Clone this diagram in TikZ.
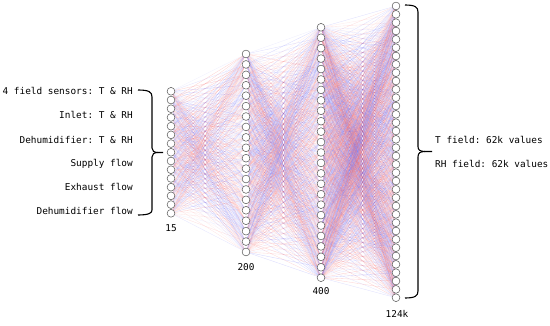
\documentclass[tikz,border=0pt]{standalone}
\usepackage{fontspec}
\setmonofont{DejaVu Sans Mono}
\pgfdeclarelayer{background}
\pgfsetlayers{background,main}
\definecolor{edgered}{RGB}{245,90,90}
\definecolor{edgeblue}{RGB}{100,100,245}
\definecolor{nodegray}{RGB}{95,95,95}
\tikzset{
  neuron/.style={circle, draw=nodegray, fill=white, line width=0.55pt, minimum size=7.8pt, inner sep=0pt},
  edge/.style={line width=0.35pt},
  lbl/.style={font=\ttfamily\fontsize{9.4}{11}\selectfont, inner sep=0pt},
  bracestyle/.style={line width=1.1pt, black}
}
\begin{document}
\begin{tikzpicture}[x=1pt,y=-1pt]
\useasboundingbox (0,0) rectangle (550,326);
% layers
\foreach \i in {1,...,15}{\node[neuron] (a\i) at (171,{91.3+(\i-1)*8.714}) {};}
\foreach \i in {1,...,20}{\node[neuron] (b\i) at (246,{54+(\i-1)*10.42}) {};}
\foreach \i in {1,...,25}{\node[neuron] (c\i) at (321,{27.3+(\i-1)*10.433}) {};}
\foreach \i in {1,...,36}{\node[neuron] (d\i) at (396,{6+(\i-1)*8.334}) {};}
% edges
\pgfmathsetseed{7}
\begin{pgfonlayer}{background}
\foreach \i in {1,...,15}{\foreach \j in {1,...,20}{
  \pgfmathrandominteger{\c}{0}{1}
  \pgfmathsetmacro{\op}{0.06+0.24*rnd}
  \ifnum\c=0 \def\col{edgered}\else\def\col{edgeblue}\fi
  \draw[edge, draw=\col, draw opacity=\op] (a\i.center) -- (b\j.center);
}}
\foreach \i in {1,...,20}{\foreach \j in {1,...,25}{
  \pgfmathrandominteger{\c}{0}{1}
  \pgfmathsetmacro{\op}{0.06+0.24*rnd}
  \ifnum\c=0 \def\col{edgered}\else\def\col{edgeblue}\fi
  \draw[edge, draw=\col, draw opacity=\op] (b\i.center) -- (c\j.center);
}}
\foreach \i in {1,...,25}{\foreach \j in {1,...,36}{
  \pgfmathrandominteger{\c}{0}{1}
  \pgfmathsetmacro{\op}{0.06+0.24*rnd}
  \ifnum\c=0 \def\col{edgered}\else\def\col{edgeblue}\fi
  \draw[edge, draw=\col, draw opacity=\op] (c\i.center) -- (d\j.center);
}}
\end{pgfonlayer}
% layer labels
\node[lbl] (n15) at (171,228) {15};
\node[lbl] (n200) at (246,267) {200};
\node[lbl] (n400) at (321,291) {400};
\node[lbl] (n124) at (397,314) {124k};
% input labels
\node[lbl, anchor=base east] (t1) at (133,94.9) {4 field sensors: T \& RH};
\node[lbl, anchor=base east] (t2) at (133,118.3) {Inlet: T \& RH};
\node[lbl, anchor=base east] (t3) at (133,143.2) {Dehumidifier: T \& RH};
\node[lbl, anchor=base east] (t4) at (133,166.5) {Supply flow};
\node[lbl, anchor=base east] (t5) at (133,190.5) {Exhaust flow};
\node[lbl, anchor=base east] (t6) at (133,214.9) {Dehumidifier flow};
% output labels
\node[lbl, anchor=base west] (o1) at (435,143.3) {T field: 62k values};
\node[lbl, anchor=base west] (o2) at (435,167.5) {RH field: 62k values};
% left brace
\draw[bracestyle] (138,90) .. controls (149,90) and (152,92) .. (152,97) -- (152,148)
  .. controls (152,151) and (154,152.5) .. (158,152.5) -- (163,152.5);
\draw[bracestyle] (158,152.5) .. controls (154,152.5) and (152,154) .. (152,157) -- (152,210)
  .. controls (152,213) and (149,215) .. (138,215);
% right brace
\draw[bracestyle] (405,5) .. controls (415,5) and (418,7) .. (418,12) -- (418,146.5)
  .. controls (418,150) and (420,151.5) .. (425,151.5) -- (432,151.5);
\draw[bracestyle] (425,151.5) .. controls (420,151.5) and (418,153) .. (418,157) -- (418,291)
  .. controls (418,296) and (415,298) .. (405,298);
\end{tikzpicture}
\end{document}
